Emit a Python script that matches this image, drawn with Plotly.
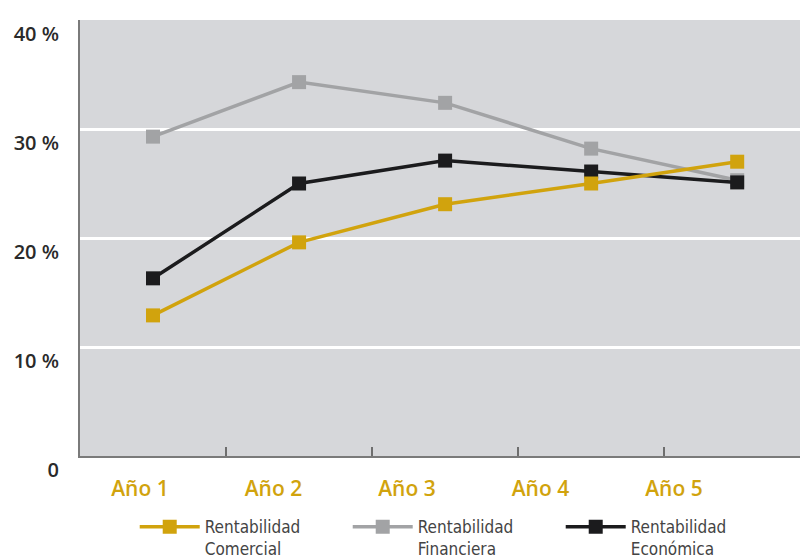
import plotly.graph_objects as go

years = ["Año 1", "Año 2", "Año 3", "Año 4", "Año 5"]
comercial = [12.9, 19.6, 23.1, 25.0, 27.0]
financiera = [29.3, 34.3, 32.4, 28.2, 25.3]
economica = [16.3, 25.0, 27.1, 26.1, 25.1]
y_ticks = [0, 10, 20, 30, 40]
y_labels = ["0", "10 %", "20 %", "30 %", "40 %"]

series = [
    ("Rentabilidad<br>Comercial", comercial, "#D1A30D"),
    ("Rentabilidad<br>Financiera", financiera, "#A2A3A5"),
    ("Rentabilidad<br>Económica", economica, "#1B1B1D"),
]
ranks = {"#D1A30D": 1, "#A2A3A5": 2, "#1B1B1D": 3}

idx = list(range(len(years)))
fig = go.Figure()
# draw order: financiera, economica, comercial on top at crossings
for name, vals, col in [series[1], series[2], series[0]]:
    fig.add_trace(go.Scatter(
        x=idx, y=vals, name=name, mode="lines+markers",
        line=dict(color=col, width=3.5),
        marker=dict(symbol="square", size=14, color=col),
        legendrank=ranks[col],
    ))
# carrier trace for the category label axis
fig.add_trace(go.Scatter(x=idx, y=[None] * len(idx), xaxis="x2", showlegend=False,
                         hoverinfo="skip", mode="markers"))

fig.update_layout(
    width=800, height=558,
    margin=dict(l=80, r=0, t=20, b=102, autoexpand=False),
    paper_bgcolor="white", plot_bgcolor="#D6D7DA",
    font=dict(family="Open Sans, Noto Sans, sans-serif"),
    xaxis=dict(range=[-0.5, 4.43], tickvals=[0.5, 1.5, 2.5, 3.5], showticklabels=False,
               ticks="inside", ticklen=9, tickcolor="#6E6E6E", tickwidth=1.5,
               showgrid=False, zeroline=False, showline=True, linecolor="#7A7A7A", linewidth=2),
    xaxis2=dict(overlaying="x", side="bottom", range=[-0.449, 4.944],
                tickvals=idx, ticktext=years, ticks="", showgrid=False, zeroline=False,
                showline=False, ticklabelstandoff=18,
                tickfont=dict(color="#D1A30D", size=21, weight=600)),
    yaxis=dict(range=[0, 40], tickvals=y_ticks, ticktext=y_labels,
               showgrid=True, gridcolor="white", gridwidth=2.5, zeroline=False,
               showline=True, linecolor="#7A7A7A", linewidth=2, ticks="",
               ticklabelposition="outside bottom", ticklabelstandoff=15,
               tickfont=dict(color="#2A2A2A", size=20, weight=600)),
    legend=dict(orientation="h", x=0.076, xanchor="left", y=-0.122, yanchor="top",
                valign="top",
                font=dict(family="DejaVu Sans Condensed, Roboto, sans-serif", size=17, color="#444"),
                itemwidth=60, entrywidth=138, tracegroupgap=0, bgcolor="rgba(0,0,0,0)"),
    showlegend=True,
)

fig.write_html("out.html")
